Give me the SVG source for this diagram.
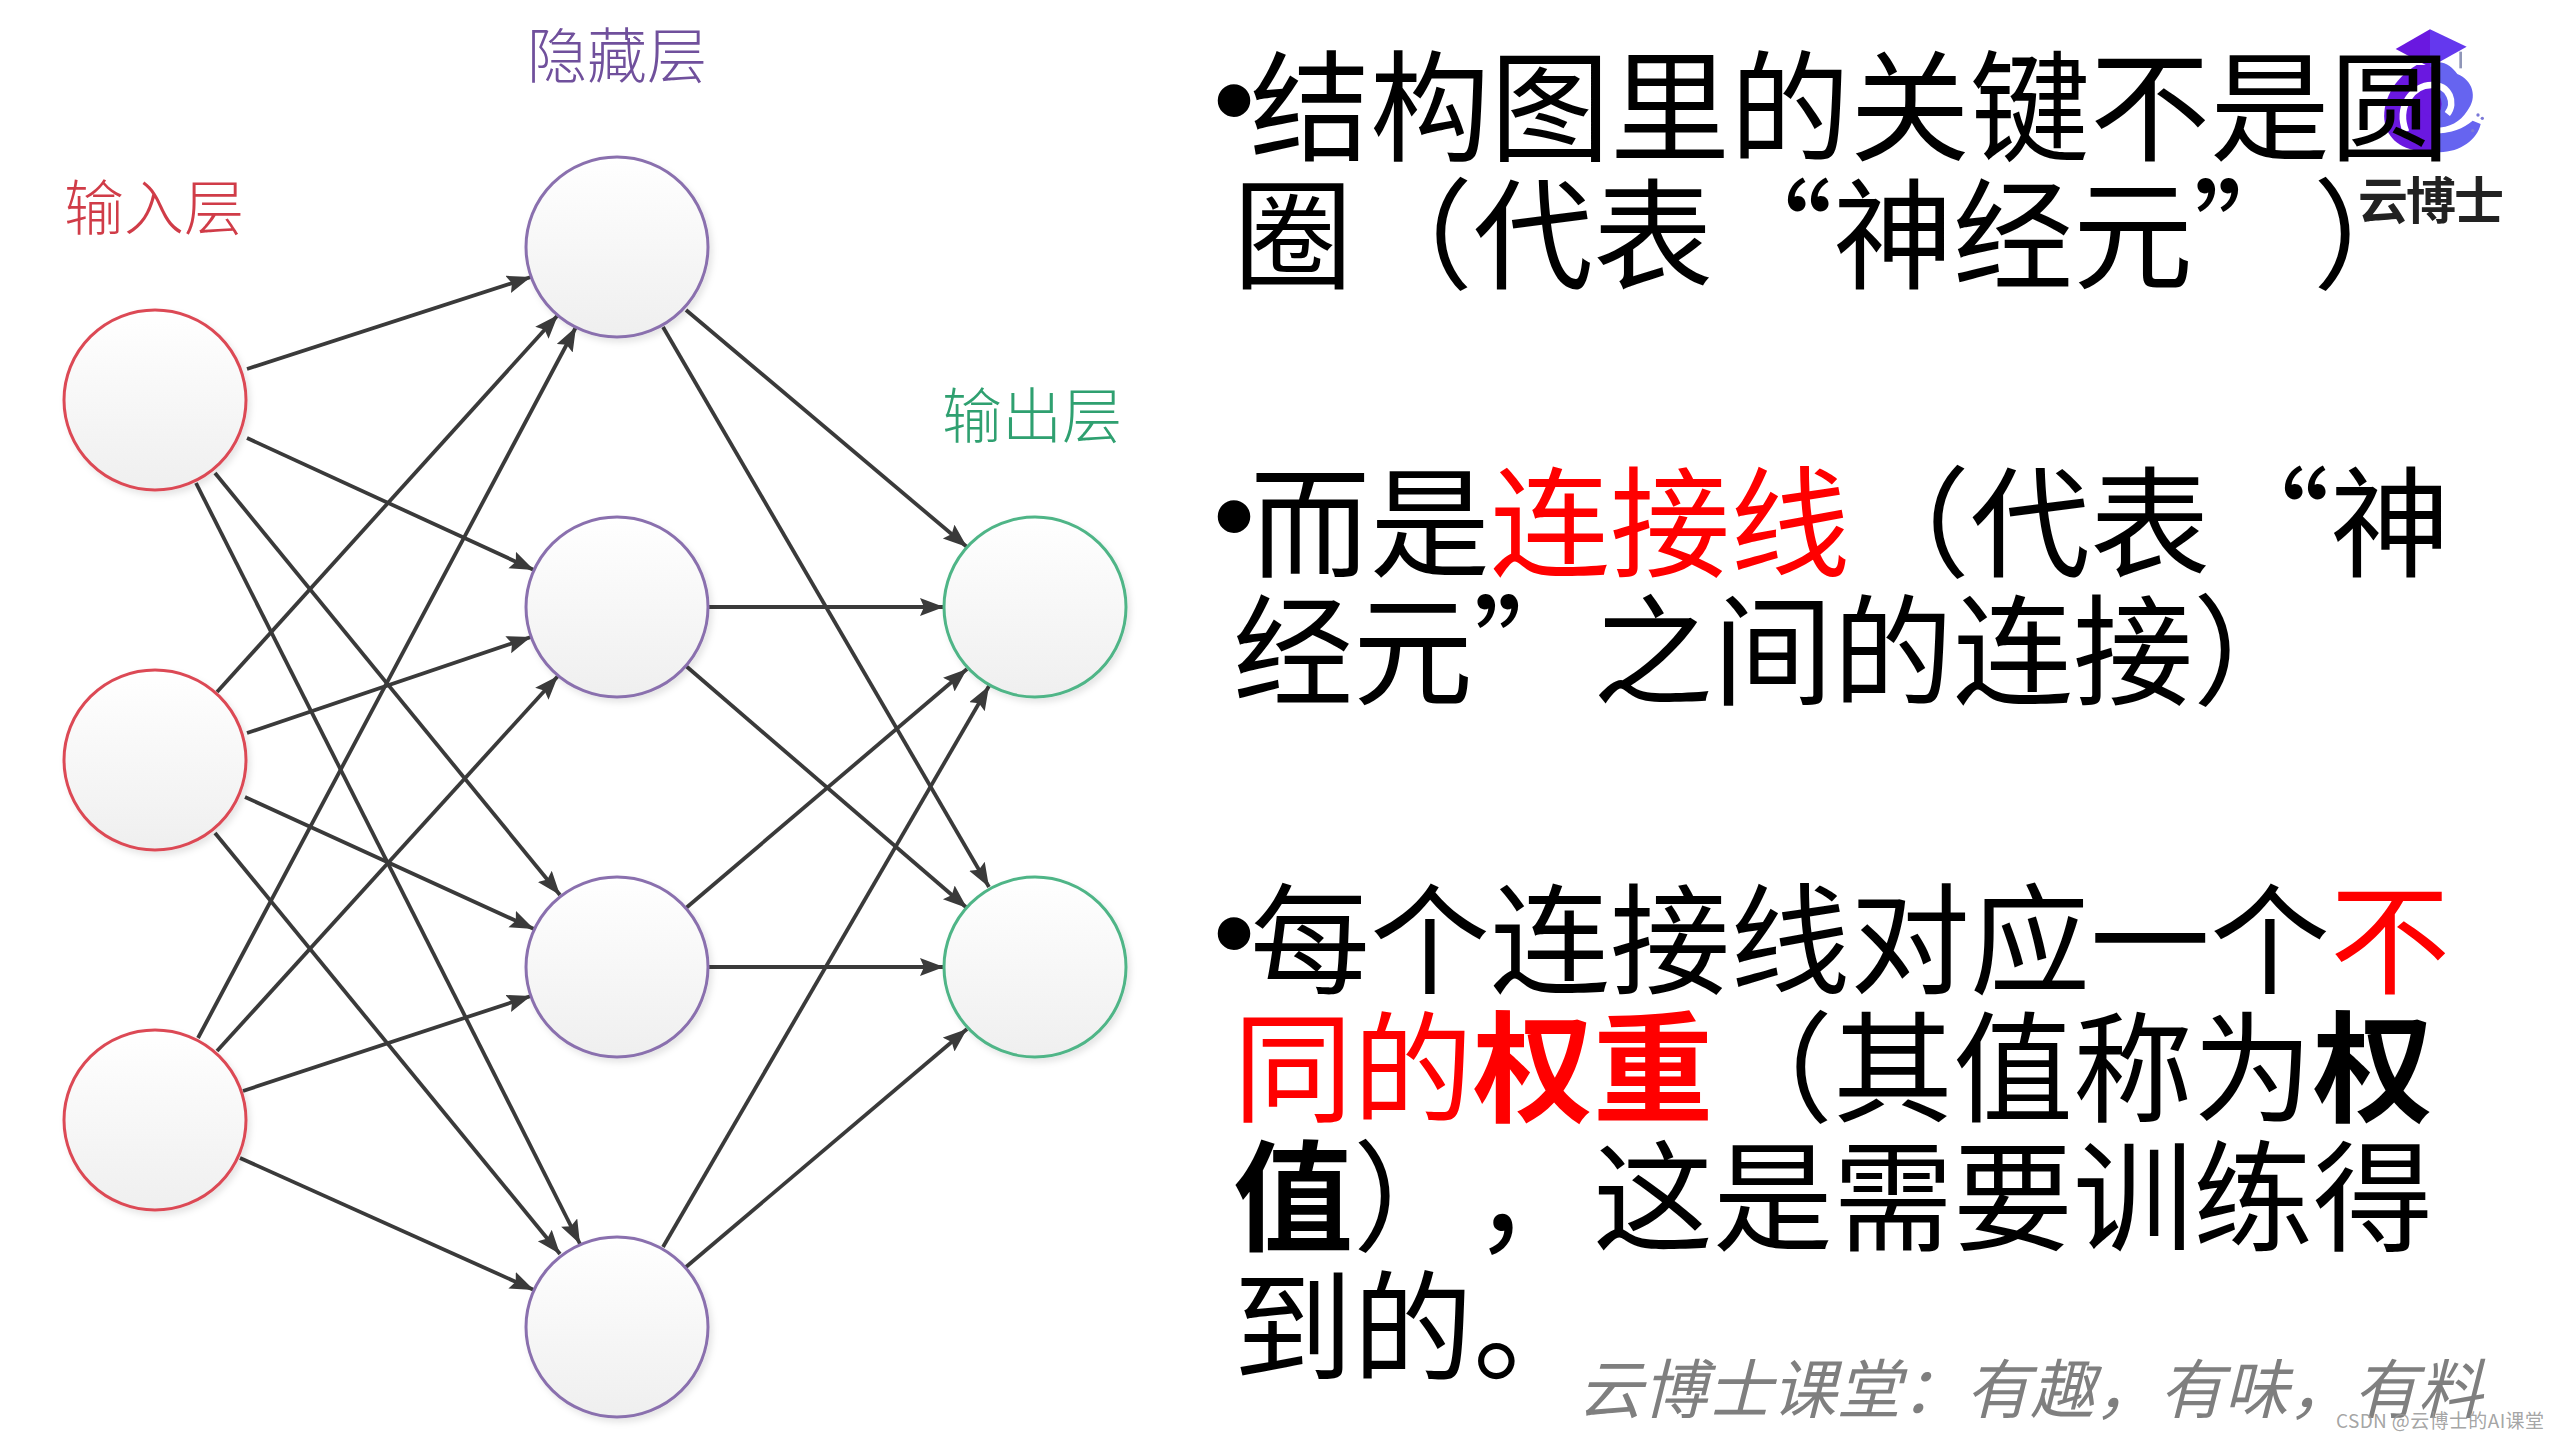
<svg xmlns="http://www.w3.org/2000/svg" width="2560" height="1440" viewBox="0 0 2560 1440">
<style>
.t{font-family:"Noto Sans CJK SC","Liberation Sans",sans-serif;font-size:120px;fill:#000;text-spacing-trim:space-all;font-kerning:none}
.bu{font-family:"Liberation Sans",sans-serif;font-size:120px;fill:#000}
.b{font-weight:700}
.r{fill:#f00}
.lab{font-family:"Noto Sans CJK SC",sans-serif;font-size:60px;font-weight:300}
.n{fill:url(#g);stroke-width:3;filter:url(#s)}
.e line{stroke:#3a3a3a;stroke-width:3.8;marker-end:url(#a)}
</style>
<defs>
<linearGradient id="g" x1="0" y1="0" x2="0" y2="1"><stop offset="0" stop-color="#fff"/><stop offset="1" stop-color="#efefef"/></linearGradient>
<filter id="s" x="-10%" y="-10%" width="125%" height="125%"><feDropShadow dx="3" dy="4" stdDeviation="3" flood-color="#000" flood-opacity=".1"/></filter>
<marker id="a" markerUnits="userSpaceOnUse" markerWidth="26" markerHeight="20" refX="24" refY="9" orient="auto"><path d="M0 0L24 9L0 18L4 9Z" fill="#3a3a3a"/></marker>
</defs>
<rect width="2560" height="1440" fill="#fff"/>
<g id="connectors" class="e">
<line x1="247" y1="369" x2="531" y2="277"/>
<line x1="247" y1="438" x2="534" y2="570"/>
<line x1="215" y1="473" x2="560" y2="895"/>
<line x1="196" y1="483" x2="580" y2="1244"/>
<line x1="217" y1="692" x2="558" y2="315"/>
<line x1="247" y1="733" x2="531" y2="637"/>
<line x1="245" y1="797" x2="534" y2="929"/>
<line x1="215" y1="833" x2="560" y2="1254"/>
<line x1="198" y1="1038" x2="576" y2="327"/>
<line x1="217" y1="1051" x2="558" y2="676"/>
<line x1="243" y1="1091" x2="531" y2="996"/>
<line x1="240" y1="1158" x2="534" y2="1290"/>
<line x1="686" y1="310" x2="967" y2="547"/>
<line x1="663" y1="327" x2="989" y2="887"/>
<line x1="709" y1="607" x2="944" y2="607"/>
<line x1="686" y1="666" x2="967" y2="908"/>
<line x1="686" y1="908" x2="967" y2="669"/>
<line x1="709" y1="967" x2="944" y2="967"/>
<line x1="663" y1="1247" x2="989" y2="686"/>
<line x1="686" y1="1267" x2="967" y2="1029"/>
</g>
<g id="input-1"><ellipse class="n" cx="155" cy="400" rx="91" ry="90" stroke="#dc4a55"/></g>
<g id="input-2"><ellipse class="n" cx="155" cy="760" rx="91" ry="90" stroke="#dc4a55"/></g>
<g id="input-3"><ellipse class="n" cx="155" cy="1120" rx="91" ry="90" stroke="#dc4a55"/></g>
<g id="hidden-1"><ellipse class="n" cx="617" cy="247" rx="91" ry="90" stroke="#8a70ae"/></g>
<g id="hidden-2"><ellipse class="n" cx="617" cy="607" rx="91" ry="90" stroke="#8a70ae"/></g>
<g id="hidden-3"><ellipse class="n" cx="617" cy="967" rx="91" ry="90" stroke="#8a70ae"/></g>
<g id="hidden-4"><ellipse class="n" cx="617" cy="1327" rx="91" ry="90" stroke="#8a70ae"/></g>
<g id="output-1"><ellipse class="n" cx="1035" cy="607" rx="91" ry="90" stroke="#4fb587"/></g>
<g id="output-2"><ellipse class="n" cx="1035" cy="967" rx="91" ry="90" stroke="#4fb587"/></g>
<g id="layer-labels">
<text class="lab" x="64" y="230" fill="#d03c48">输入层</text>
<text class="lab" x="527" y="78" fill="#70509c">隐藏层</text>
<text class="lab" x="942" y="438" fill="#2fa070">输出层</text>
</g>
<g id="logo">
<g transform="translate(2250 0) scale(.33333)">
<path d="M500 195C430 235 392 310 405 372C418 425 465 458 555 456L555 195Z" fill="#6a18e0"/>
<path d="M540 190C585 178 605 200 622 222C668 240 684 292 652 332C630 366 600 382 555 384L555 190Z" fill="#6664f0"/>
<path d="M555 400C605 400 640 385 668 362L692 372C682 420 625 462 555 456Z" fill="#6664f0"/>
<path d="M468 395C438 320 488 255 545 255C600 255 618 310 592 342" fill="none" stroke="#fff" stroke-width="20"/>
<path d="M575 392C610 388 640 370 662 348" fill="none" stroke="#fff" stroke-width="14"/>
<ellipse cx="545" cy="312" rx="30" ry="38" fill="#6a18e0"/>
<path d="M540 88L437 147L540 202Z" fill="#6a18e0"/>
<path d="M540 88L650 140L540 202Z" fill="#6438ee"/>
<line x1="632" y1="155" x2="632" y2="205" stroke="#8f96b8" stroke-width="8"/>
<circle cx="684" cy="345" r="5" fill="#7a78d8"/><circle cx="697" cy="355" r="5" fill="#7a78d8"/><circle cx="668" cy="392" r="5" fill="#7a78d8"/>
</g>
<text x="2358" y="219" font-family="'Noto Sans CJK SC',sans-serif" font-size="50" font-weight="700" fill="#222" textLength="146">云博士</text>
</g>
<g id="body">
<text class="bu" x="1213" y="141">•</text>
<text class="t" x="1250" y="152">结构图里的关键不是圆</text>
<text class="t" x="1233" y="280">圈（代表“神经元”）</text>
<text class="bu" x="1213" y="557">•</text>
<text class="t" x="1250" y="568">而是<tspan class="r">连接线</tspan>（代表“神</text>
<text class="t" x="1233" y="696">经元”之间的连接）</text>
<text class="bu" x="1213" y="974">•</text>
<text class="t" x="1250" y="985">每个连接线对应一个<tspan class="r">不</tspan></text>
<text class="t" x="1233" y="1113"><tspan class="r">同的</tspan><tspan class="r b">权重</tspan>（其值称为<tspan class="b">权</tspan></text>
<text class="t" x="1233" y="1242"><tspan class="b">值</tspan>），这是需要训练得</text>
<text class="t" x="1233" y="1372">到的。</text>
</g>
<text x="1578" y="1413" font-family="'Noto Sans CJK SC',sans-serif" font-size="64.6" font-style="italic" fill="#7f7f7f" style="text-spacing-trim:space-all">云博士课堂：有趣，有味，有料</text>
<text x="2336" y="1428" font-family="'Noto Sans CJK SC',sans-serif" font-size="19" fill="#9a9a9a" fill-opacity=".9" textLength="208">CSDN @云博士的AI课堂</text>
</svg>
